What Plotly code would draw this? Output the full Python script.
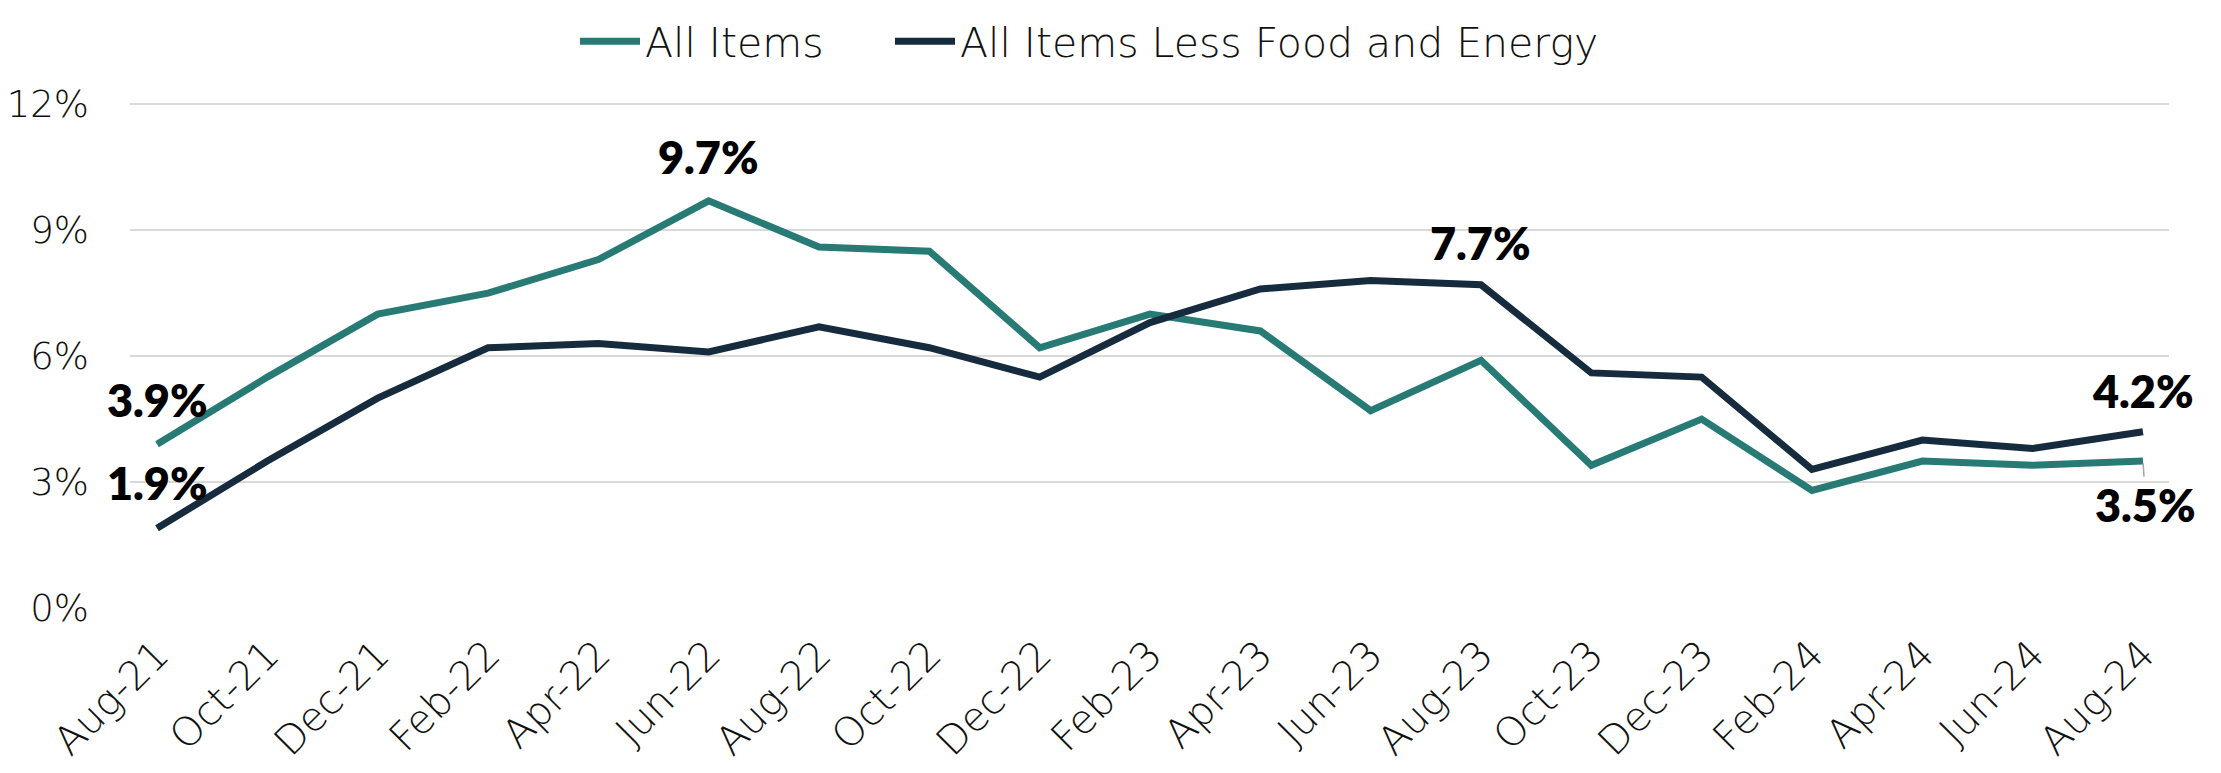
import plotly.graph_objects as go

# ── Data ──────────────────────────────────────────────────────────────────────
MONTHS = [
    "Aug-21", "Oct-21", "Dec-21", "Feb-22", "Apr-22", "Jun-22", "Aug-22",
    "Oct-22", "Dec-22", "Feb-23", "Apr-23", "Jun-23", "Aug-23", "Oct-23",
    "Dec-23", "Feb-24", "Apr-24", "Jun-24", "Aug-24",
]
ALL_ITEMS = [3.9, 5.5, 7.0, 7.5, 8.3, 9.7, 8.6, 8.5, 6.2, 7.0,
             6.6, 4.7, 5.9, 3.4, 4.5, 2.8, 3.5, 3.4, 3.5]
CORE = [1.9, 3.5, 5.0, 6.2, 6.3, 6.1, 6.7, 6.2, 5.5, 6.8,
        7.6, 7.8, 7.7, 5.6, 5.5, 3.3, 4.0, 3.8, 4.2]
Y_TICKS = [0, 3, 6, 9, 12]
Y_TICK_TEXT = ["0%", "3%", "6%", "9%", "12%"]

# ── Theme ─────────────────────────────────────────────────────────────────────
TEAL  = "#287b74"
NAVY  = "#162c3e"
GRID  = "#d9d9d9"
TEXT  = "#111111"
FONT  = "'DejaVu Sans', Lato, sans-serif"
BOLD  = "Lato, 'Open Sans', sans-serif"

# page body has an 8px margin, so the figure is a little smaller than the window
W, H = 2205, 757

fig = go.Figure()

fig.add_trace(go.Scatter(
    x=MONTHS, y=ALL_ITEMS, name="All Items", mode="lines",
    line=dict(color=TEAL, width=7), legend="legend",
))
fig.add_trace(go.Scatter(
    x=MONTHS, y=CORE, name="All Items Less Food and Energy", mode="lines",
    line=dict(color=NAVY, width=7), legend="legend2",
))

# ── Data labels ───────────────────────────────────────────────────────────────
label_font = dict(family=BOLD, size=45, color="#000000", weight=800)


def _label(series, idx, yshift):
    fig.add_annotation(
        x=MONTHS[idx], y=series[idx], text=f"{series[idx]:.1f}%",
        showarrow=False, yshift=yshift, font=label_font,
    )


_label(ALL_ITEMS, 0, 44)
_label(CORE, 0, 45)
_label(ALL_ITEMS, 5, 44)
_label(CORE, 12, 42)
_label(CORE, 18, 41)

# last All Items value sits under the line, with a small leader line
fig.add_annotation(
    x=MONTHS[-1], y=ALL_ITEMS[-1], text=f"{ALL_ITEMS[-1]:.1f}%",
    showarrow=True, arrowhead=0, arrowwidth=1.5, arrowcolor="#a6a6a6",
    ax=3, ay=44, standoff=2, font=label_font,
)

# ── Layout ────────────────────────────────────────────────────────────────────
tick_font = dict(family=FONT, size=40, color=TEXT, weight=200)
legend_base = dict(
    orientation="h", xref="container", xanchor="left",
    yref="container", y=1, yanchor="top",
    font=dict(family=FONT, size=41, color=TEXT, weight=200),
    bgcolor="rgba(0,0,0,0)", itemwidth=60,
)

fig.update_layout(
    width=W, height=H,
    paper_bgcolor="white", plot_bgcolor="white",
    font=tick_font,
    margin=dict(l=122, r=44, t=95, b=157),
    showlegend=True,
    legend=dict(**legend_base, x=567 / W),
    legend2=dict(**legend_base, x=882 / W),
    xaxis=dict(
        type="category", range=[-0.245, 18.236], automargin=False,
        showgrid=False, zeroline=False, showline=False,
        tickangle=-45, ticklabelstandoff=14, tickfont=tick_font,
    ),
    yaxis=dict(
        range=[0, 12.03], tickvals=Y_TICKS, ticktext=Y_TICK_TEXT,
        automargin=False,
        showgrid=True, gridcolor=GRID, gridwidth=2,
        zeroline=False, showline=False, ticklabelstandoff=40,
        tickfont=dict(family=FONT, size=37, color=TEXT, weight=200),
    ),
)

fig.write_html("out.html")
